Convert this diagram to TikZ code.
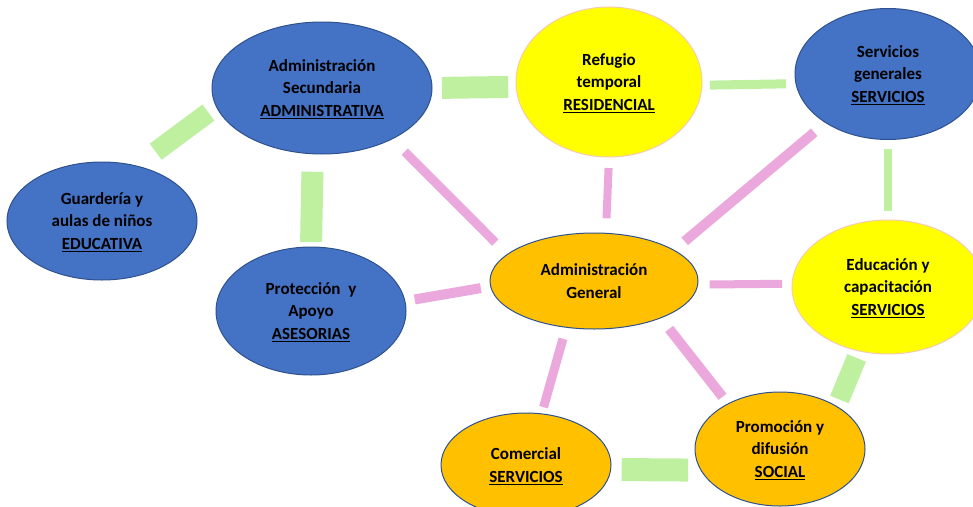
\documentclass[tikz,border=0pt]{standalone}
\usepackage{fontspec}
\setmainfont{Carlito}
\usetikzlibrary{shapes.geometric}

\definecolor{areablue}{HTML}{4472C4}
\definecolor{rimblue}{HTML}{2F528F}
\definecolor{areaorange}{HTML}{FFC000}
\definecolor{areayellow}{HTML}{FFFF00}
\definecolor{rimyellow}{HTML}{F8CBAD}
\definecolor{linkgreen}{HTML}{BEF0A0}
\definecolor{linkpink}{HTML}{EBA8DC}

\begin{document}
\begin{tikzpicture}[
  x=1pt, y=-1pt,
  unit/.style={ellipse, inner sep=0pt, outer sep=0pt, line width=1pt, align=center,
               text=black, font=\fontsize{17}{22.5}\selectfont\bfseries, text depth=-1.5pt},
  bluearea/.style={unit, draw=rimblue, fill=areablue},
  orangearea/.style={unit, draw=rimblue, fill=areaorange},
  yellowarea/.style={unit, draw=rimyellow, fill=areayellow},
  widelink/.style={draw=linkgreen, line width=22pt},
  narrowlink/.style={draw=linkgreen, line width=8.5pt},
  pinklink/.style={draw=linkpink, line width=9pt}
]
\clip (0,0) rectangle (973,506);
\fill[white] (0,0) rectangle (973,506);

\node[bluearea, minimum width=220pt, minimum height=132pt] (sec) at (322,88)
  {Administración\\Secundaria\\\underline{ADMINISTRATIVA}};
\node[bluearea, minimum width=190pt, minimum height=118pt] (gua) at (102,221)
  {Guardería y\\aulas de niños\\\underline{EDUCATIVA}};
\node[yellowarea, minimum width=186pt, minimum height=150pt] (ref) at (609,82)
  {Refugio\\temporal\\\underline{RESIDENCIAL}};
\node[bluearea, minimum width=186pt, minimum height=131pt] (serv) at (888,74)
  {Servicios\\generales\\\underline{SERVICIOS}};
\node[bluearea, minimum width=190pt, minimum height=128pt] (pro) at (311,311)
  {Protección\ \ y\\Apoyo\\\underline{ASESORIAS}};
\node[orangearea, minimum width=208pt, minimum height=96pt] (gen) at (594,281)
  {Administración\\General};
\node[yellowarea, minimum width=192pt, minimum height=134pt] (edu) at (888,287)
  {Educación y\\capacitación\\\underline{SERVICIOS}};
\node[orangearea, minimum width=170pt, minimum height=104pt] (com) at (526,465)
  {Comercial\\\underline{SERVICIOS}};
\node[orangearea, minimum width=170pt, minimum height=114pt] (prm) at (780,449)
  {Promoción y\\difusión\\\underline{SOCIAL}};

\draw[widelink, line width=20pt, shorten <=24pt, shorten >=10pt] (gua.58) -- (sec.190);
\draw[widelink, shorten <=10pt, shorten >=8pt] (sec.0) -- (ref.183);
\draw[widelink, shorten <=18pt, shorten >=5pt] (sec.262) -- (pro.north);
\draw[narrowlink, line width=9pt, shorten <=8pt, shorten >=10pt] (ref.358) -- (serv.186);
\draw[narrowlink, shorten <=9pt, shorten >=9pt] (serv.south) -- (edu.north);
\draw[widelink, line width=20pt, shorten <=7.5pt, shorten >=7.5pt] (edu.246) -- (prm.37);
\draw[widelink, line width=23pt, shorten <=11pt, shorten >=13pt] (com.357) -- (prm.195);

\draw[pinklink, shorten <=18pt, shorten >=17pt] (sec.324) -- (gen.163);
\draw[pinklink, line width=8pt, shorten <=11pt, shorten >=15pt] (ref.south) -- (gen.76);
\draw[pinklink, line width=10pt, shorten <=15pt, shorten >=14pt] (serv.218) -- (gen.21);
\draw[pinklink, line width=10pt, shorten <=10pt, shorten >=10pt] (pro.6) -- (gen.183);
\draw[pinklink, line width=8pt, shorten <=12pt, shorten >=10pt] (gen.358) -- (edu.178);
\draw[pinklink, shorten <=12pt, shorten >=7pt] (gen.239) -- (com.73);
\draw[pinklink, line width=10pt, shorten <=14pt, shorten >=9pt] (gen.331) -- (prm.139);
\end{tikzpicture}
\end{document}
